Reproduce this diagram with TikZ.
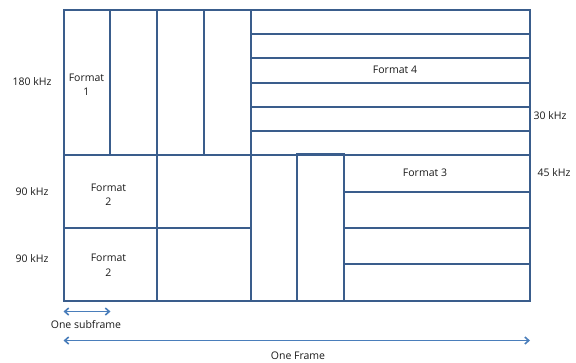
\documentclass[tikz,border=0pt]{standalone}
\usepackage{fontspec}
\setmainfont{Open Sans}
\usetikzlibrary{arrows.meta}
\definecolor{gridblue}{RGB}{58,93,140}
\definecolor{arrowblue}{RGB}{74,126,187}
\tikzset{
  cell/.style={draw=gridblue, line width=2pt},
  lbl/.style={font=\fontsize{10.5}{14.5}\selectfont, text=black!90, align=center, inner sep=0pt},
  span/.style={draw=arrowblue, line width=1.6pt, arrows={Straight Barb[length=4pt,width=7pt]-Straight Barb[length=4pt,width=7pt]}}
}
\begin{document}
\begin{tikzpicture}[x=1pt,y=-1pt]
\useasboundingbox (0,0) rectangle (576,362);
% column edges (one subframe, about 47 wide) and row edges
\def\xa{64}\def\xb{110}\def\xc{157}\def\xd{204}\def\xe{251}
\def\xf{297}\def\xg{344}\def\xr{530}
\def\yt{10}\def\ym{155}\def\yh{228}\def\yb{301}
% Format 1: four subframes, 180 kHz
\foreach \l/\r in {\xa/\xb,\xb/\xc,\xc/\xd,\xd/\xe}
  \draw[cell] (\l,\yt) rectangle (\r,\ym);
% Format 4: six 30 kHz rows
\foreach \t/\bt in {10/34,34/58,58/83,83/107,107/131,131/155}
  \draw[cell] (\xe,\t) rectangle (\xr,\bt);
% Format 2: two 90 kHz rows of two-subframe blocks
\foreach \t/\bt in {\ym/\yh,\yh/\yb}{
  \draw[cell] (\xa,\t) rectangle (\xc,\bt);
  \draw[cell] (\xc,\t) rectangle (\xe,\bt);
}
% Format 3: two single subframes, then four 45 kHz rows
\draw[cell] (\xe,\ym) rectangle (\xf,\yb);
\draw[cell] (\xf,154) rectangle (\xg,\yb);
\foreach \t/\bt in {155/192,192/228,228/264,264/301}
  \draw[cell] (\xg,\t) rectangle (\xr,\bt);

% labels
\node[lbl] (f1) at (86.5,84.5) {Format\\1};
\node[lbl] (f4) at (395,70) {Format 4};
\node[lbl] (f2a) at (108.5,194.5) {Format\\2};
\node[lbl] (f2b) at (108.5,265) {Format\\2};
\node[lbl] (f3) at (425,173) {Format 3};
\node[lbl] (k180) at (32,82) {180 kHz};
\node[lbl] (k90a) at (32,192) {90 kHz};
\node[lbl] (k90b) at (32,259) {90 kHz};
\node[lbl,anchor=west] (k30) at (533.5,115.5) {30 kHz};
\node[lbl,anchor=west] (k45) at (537.5,173) {45 kHz};

% spans
\coordinate (sfl) at (63.5,311.5);
\coordinate (sfr) at (110.5,311.5);
\draw[span] (sfl) -- (sfr);
\node[lbl] (sf) at (86,324.5) {One subframe};
\coordinate (frl) at (63.5,340.5);
\coordinate (frr) at (530,340.5);
\draw[span] (frl) -- (frr);
\node[lbl] (fr) at (298,356) {One Frame};
\end{tikzpicture}
\end{document}
